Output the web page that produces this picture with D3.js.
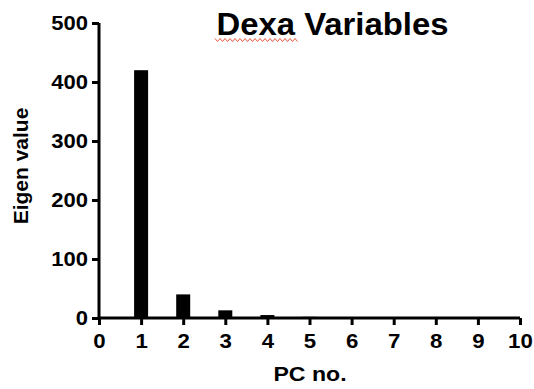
<!DOCTYPE html>
<html><head><meta charset="utf-8">
<script src="https://cdn.jsdelivr.net/npm/d3@7"></script>
<style>body{margin:0;background:#fff}svg{display:block}text{font-family:"Liberation Sans",Arial,sans-serif;font-weight:bold;fill:#000}</style>
</head><body>
<script>
const pcNumbers = [1, 2, 3, 4, 5, 6, 7, 8, 9];
const eigenValues = [420, 40, 13, 5, 2, 1, 0.8, 0.6, 0.4];
const yTicks = [0, 100, 200, 300, 400, 500];
const xTicks = [0, 1, 2, 3, 4, 5, 6, 7, 8, 9, 10];
const title = "Dexa Variables";
const xLabel = "PC no.";
const yLabel = "Eigen value";

const W = 534, H = 389;
const svg = d3.select("body").append("svg").attr("width", W).attr("height", H);
const x = d3.scaleLinear().domain([0, 10]).range([99, 520]);
const y = d3.scaleLinear().domain([0, 500]).range([318, 23]);

svg.append("g").selectAll("rect").data(pcNumbers).join("rect")
  .attr("x", d => x(d) - 7).attr("width", 14)
  .attr("y", (d, i) => y(eigenValues[i])).attr("height", (d, i) => y(0) - y(eigenValues[i]))
  .attr("fill", "#000");

const yAxis = svg.append("g").attr("transform", `translate(${x(0)},0)`)
  .call(d3.axisLeft(y).tickValues(yTicks).tickSize(7).tickPadding(3));
const xAxis = svg.append("g").attr("transform", `translate(0,${y(0)})`)
  .call(d3.axisBottom(x).tickValues(xTicks).tickSize(7).tickPadding(8));
[yAxis, xAxis].forEach(a => {
  a.select(".domain").attr("stroke", "#000").attr("stroke-width", 3);
  a.selectAll(".tick line").attr("stroke", "#000").attr("stroke-width", 3);
  a.selectAll("text").style("font-size", "20px").attr("fill", "#000");
});
yAxis.selectAll(".tick text").attr("transform", "scale(1.1,1)");
xAxis.selectAll(".tick text").style("font-size", "21px").attr("transform", "scale(1.06,1)");
yAxis.select(".domain").attr("d", `M0,${y(500)}V${y(0)}`);
xAxis.select(".domain").attr("d", `M${x(0)},0H${x(10)}`);

svg.append("text").attr("transform", "translate(332.5,35) scale(1.06,1)").attr("text-anchor", "middle")
  .style("font-size", "31px").text(title);
// spellcheck-style underline under "Dexa"
const wave = d3.range(0, 83, 2.5).map((v, i) => [215 + v, 40 + (i % 2 ? 1.5 : -1.5)]);
svg.append("path").attr("d", d3.line()(wave)).attr("fill", "none").attr("stroke", "#e8553f").attr("stroke-width", 1);

svg.append("text").attr("transform", "translate(310,381) scale(1.1,1)").attr("text-anchor", "middle")
  .style("font-size", "21px").text(xLabel);
svg.append("text").attr("transform", "translate(28,166) rotate(-90)").attr("text-anchor", "middle")
  .style("font-size", "21px").text(yLabel);
</script>
</body></html>
